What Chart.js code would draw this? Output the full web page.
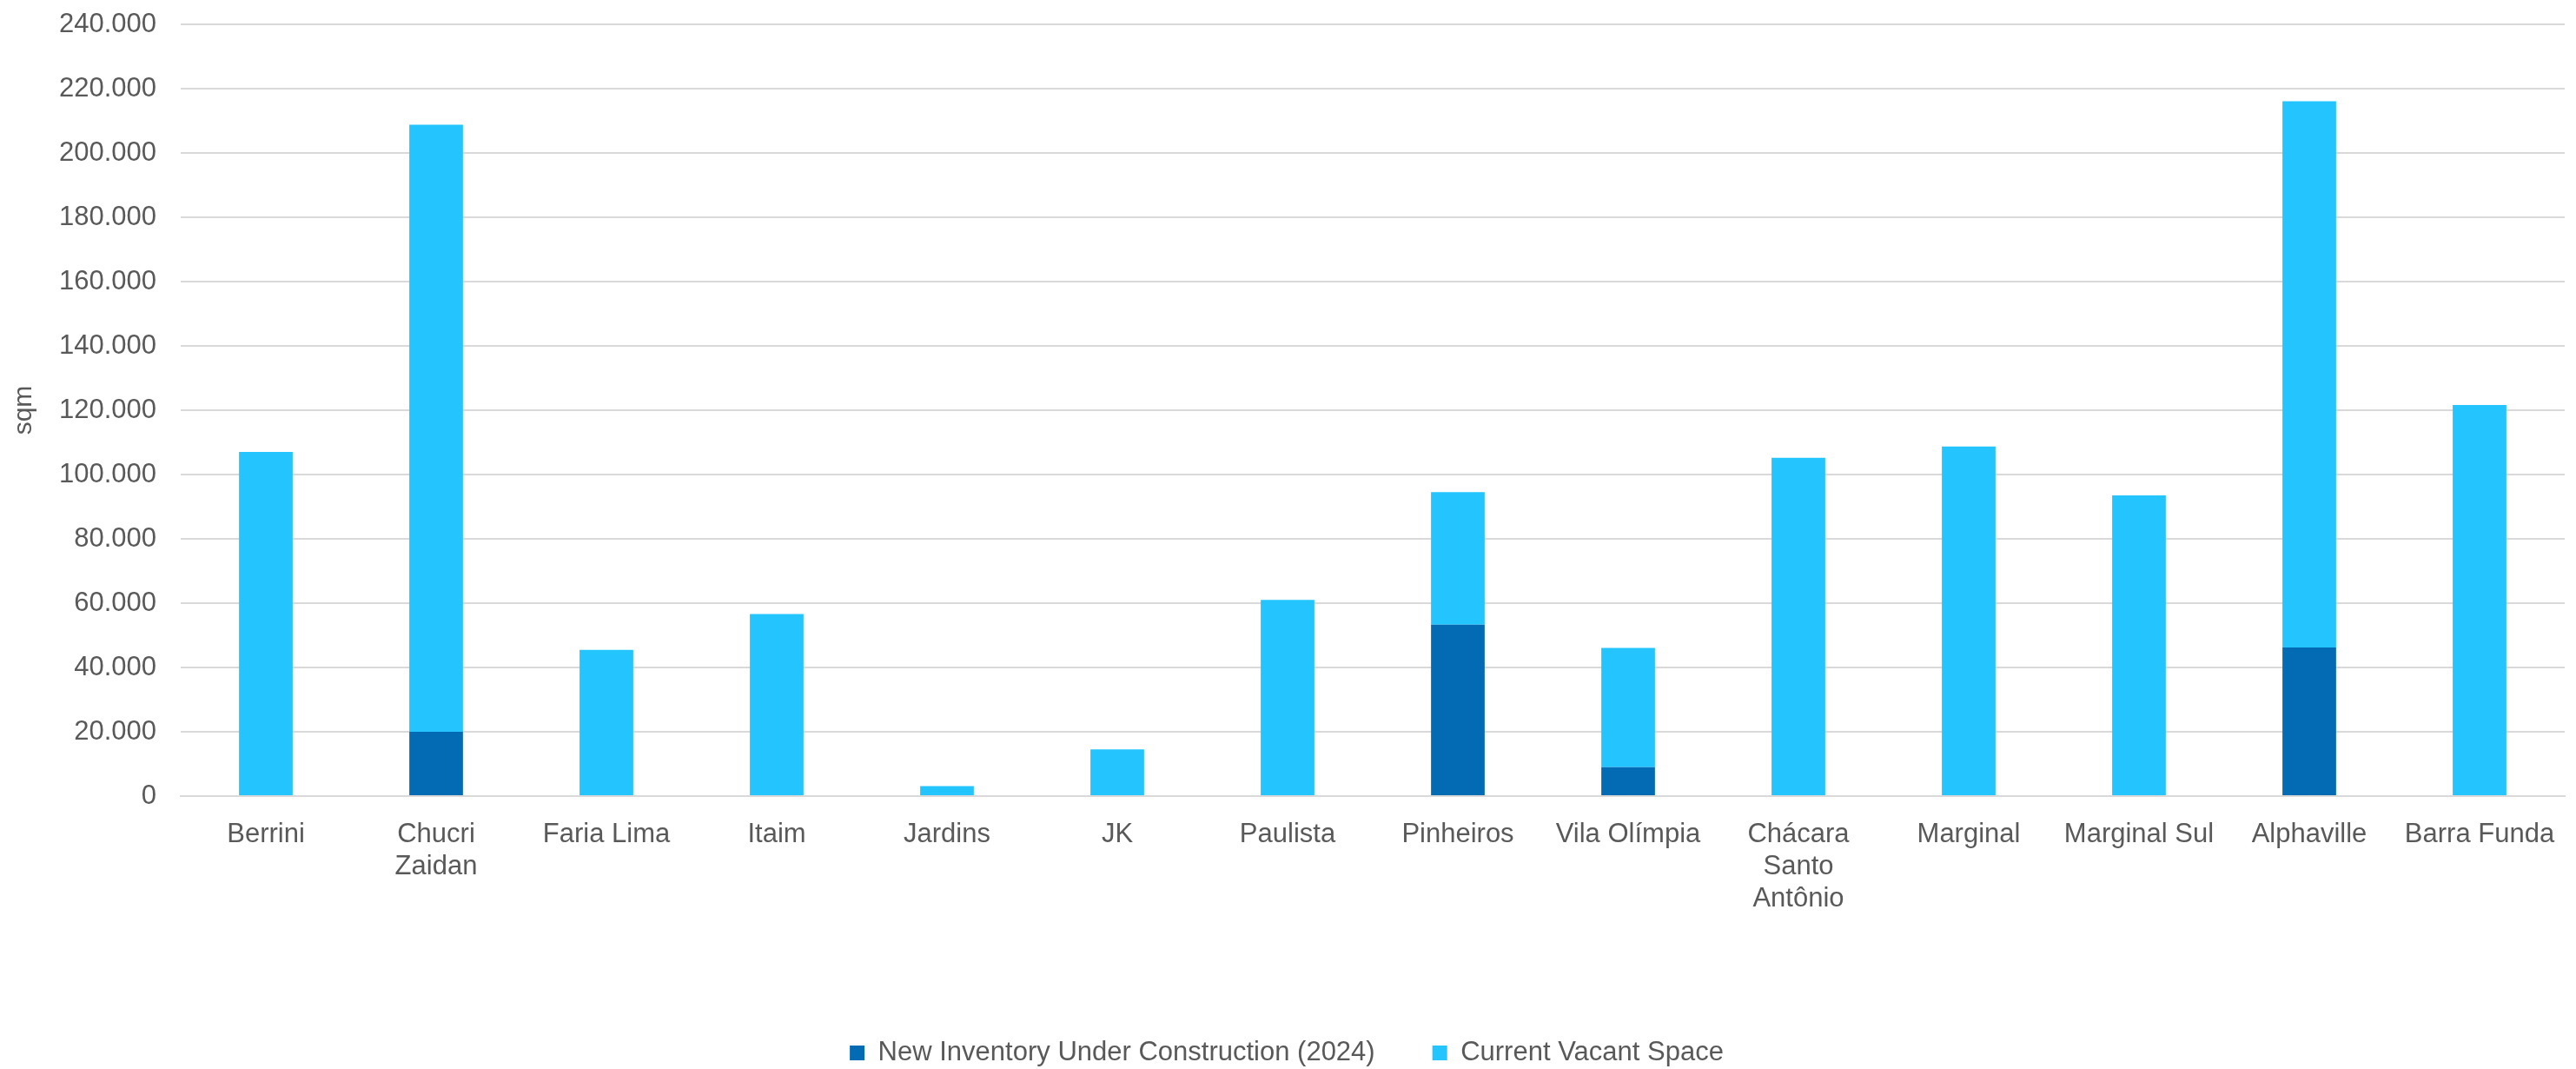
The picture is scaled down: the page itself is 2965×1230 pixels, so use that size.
<!DOCTYPE html>
<html>
<head>
<meta charset="utf-8">
<script src="https://cdn.jsdelivr.net/npm/chart.js@4"></script>
<style>
  body { margin: 0; background: #fff; }
</style>
</head>
<body>
<canvas id="myChart" width="2965" height="1230"></canvas>
<script>
const categories = [
  'Berrini', ['Chucri', 'Zaidan'], 'Faria Lima', 'Itaim', 'Jardins', 'JK', 'Paulista',
  'Pinheiros', 'Vila Olímpia', ['Chácara', 'Santo', 'Antônio'], 'Marginal', 'Marginal Sul',
  'Alphaville', 'Barra Funda'
];
// sqm, stacked: new inventory at the bottom, vacant space on top
const newInventory = [0, 20000, 0, 0, 0, 0, 0, 53300, 9000, 0, 0, 0, 46200, 0];
const vacantSpace = [107000, 188800, 45500, 56600, 3100, 14500, 61000, 41200, 37100, 105200, 108700, 93500, 169900, 121600];
const yTicks = [0, 20000, 40000, 60000, 80000, 100000, 120000, 140000, 160000, 180000, 200000, 220000, 240000];

const textColor = '#595959';
const gridColor = '#d9d9d9';
const font = { family: '"Liberation Sans", Arial, sans-serif', size: 31 };

function fmt(v) {
  return String(v).replace(/\B(?=(\d{3})+(?!\d))/g, '.');
}

const ctx = document.getElementById('myChart');

new Chart(ctx, {
  type: 'bar',
  data: {
    labels: categories,
    datasets: [{
      label: 'New Inventory Under Construction (2024)',
      data: newInventory,
      backgroundColor: '#036ab4'
    }, {
      label: 'Current Vacant Space',
      data: vacantSpace,
      backgroundColor: '#24c4ff'
    }]
  },
  options: {
    responsive: false,
    animation: false,
    devicePixelRatio: 1,
    barPercentage: 0.315,
    categoryPercentage: 1,
    layout: {
      padding: { top: 28, left: 10, right: 13, bottom: -7 }
    },
    plugins: {
      tooltip: { enabled: false },
      legend: {
        position: 'bottom',
        labels: {
          boxWidth: 17,
          boxHeight: 17,
          padding: 66,
          color: textColor,
          font: font
        }
      }
    },
    scales: {
      x: {
        stacked: true,
        afterFit: (scale) => { scale.height = 214; },
        grid: { display: false },
        border: { display: true, color: gridColor, width: 2 },
        ticks: {
          color: textColor,
          font: { ...font, lineHeight: 1.19 },
          padding: 18,
          maxRotation: 0,
          autoSkip: false
        }
      },
      y: {
        stacked: true,
        min: 0,
        max: 240000,
        afterFit: (scale) => {
          scale.width = 198;
          scale.paddingTop = 0;
          scale.paddingBottom = 0;
        },
        afterBuildTicks: (scale) => { scale.ticks = yTicks.map(v => ({ value: v })); },
        grid: { color: gridColor, lineWidth: 2, drawTicks: false },
        border: { display: false },
        ticks: {
          color: textColor,
          font: font,
          padding: 28,
          callback: (v) => fmt(v)
        },
        title: {
          display: true,
          text: 'sqm',
          color: textColor,
          font: { ...font, size: 30 },
          padding: { top: 0, bottom: 0 }
        }
      }
    }
  }
});
</script>
</body>
</html>
